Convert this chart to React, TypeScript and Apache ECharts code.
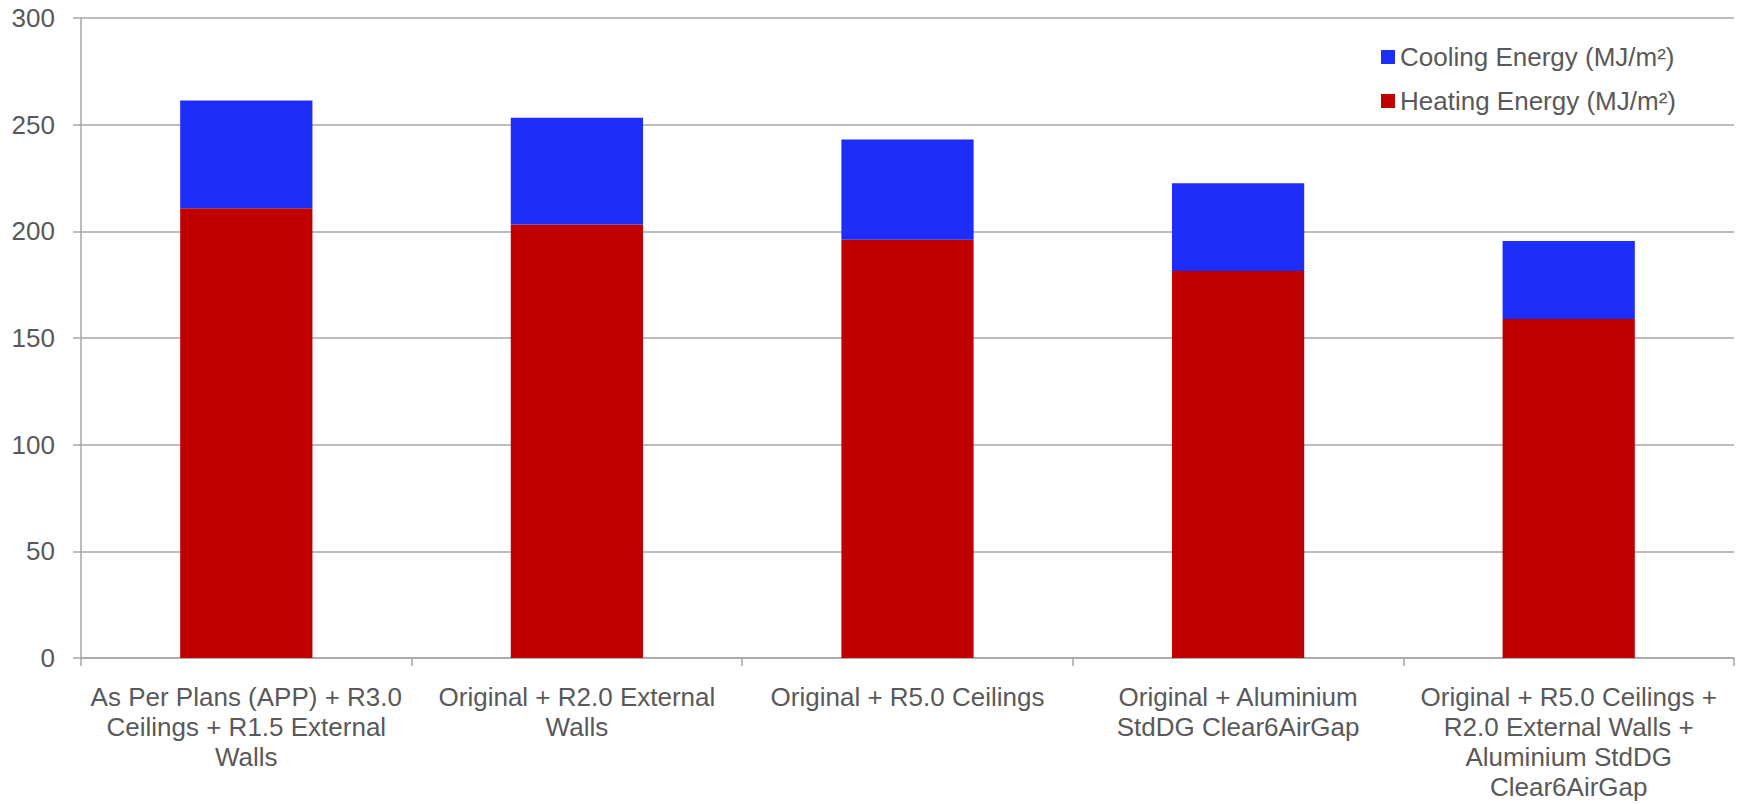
import React, { useEffect, useRef } from "react";
import * as echarts from "echarts";

const categories = [
  "As Per Plans (APP) + R3.0\nCeilings + R1.5 External\nWalls",
  "Original + R2.0 External\nWalls",
  "Original + R5.0 Ceilings",
  "Original + Aluminium\nStdDG Clear6AirGap",
  "Original + R5.0 Ceilings +\nR2.0 External Walls +\nAluminium StdDG\nClear6AirGap",
];
const heating = [210.8, 203.2, 196.0, 181.4, 158.9];
const cooling = [50.5, 50.0, 47.0, 41.1, 36.6];
const seriesNames = ["Cooling Energy (MJ/m²)", "Heating Energy (MJ/m²)"];

const FONT = "'Liberation Sans', Arial, sans-serif";
const TEXT = "#595959";
const LINE = "#a6a6a6";

export default function App() {
  const ref = useRef<HTMLDivElement>(null);
  useEffect(() => {
    document.body.style.margin = "0";
    const chart = echarts.init(ref.current!, null, { renderer: "svg" });
    chart.setOption({
      animation: false,
      backgroundColor: "#ffffff",
      textStyle: { fontFamily: FONT },
      grid: { left: 81, right: 10, top: 18, bottom: 146, containLabel: false },
      legend: {
        orient: "vertical",
        left: 1376,
        top: 37,
        itemWidth: 14,
        itemHeight: 14,
        itemGap: 14,
        icon: "rect",
        data: seriesNames,
        textStyle: { fontFamily: FONT, fontSize: 26, color: TEXT, lineHeight: 30 },
      },
      xAxis: {
        type: "category",
        data: categories,
        axisLine: { lineStyle: { color: LINE, width: 1.5 } },
        axisTick: { show: true, alignWithLabel: false, length: 8, lineStyle: { color: LINE, width: 1.5 } },
        axisLabel: {
          interval: 0,
          margin: 24,
          fontFamily: FONT,
          fontSize: 26,
          lineHeight: 30,
          color: TEXT,
          align: "center",
        },
      },
      yAxis: {
        type: "value",
        min: 0,
        max: 300,
        interval: 50,
        axisLine: { show: true, lineStyle: { color: LINE, width: 1.5 } },
        axisTick: { show: true, length: 8, lineStyle: { color: LINE, width: 1.5 } },
        splitLine: { show: true, lineStyle: { color: LINE, width: 1.5 } },
        axisLabel: { margin: 26, fontFamily: FONT, fontSize: 26, color: TEXT },
      },
      series: [
        {
          name: seriesNames[1],
          type: "bar",
          stack: "total",
          barWidth: "40%",
          data: heating,
          itemStyle: { color: "#c00000" },
        },
        {
          name: seriesNames[0],
          type: "bar",
          stack: "total",
          barWidth: "40%",
          data: cooling,
          itemStyle: { color: "#1e2df8" },
        },
      ],
    });
    return () => chart.dispose();
  }, []);
  return <div ref={ref} style={{ width: 1744, height: 804 }} />;
}
